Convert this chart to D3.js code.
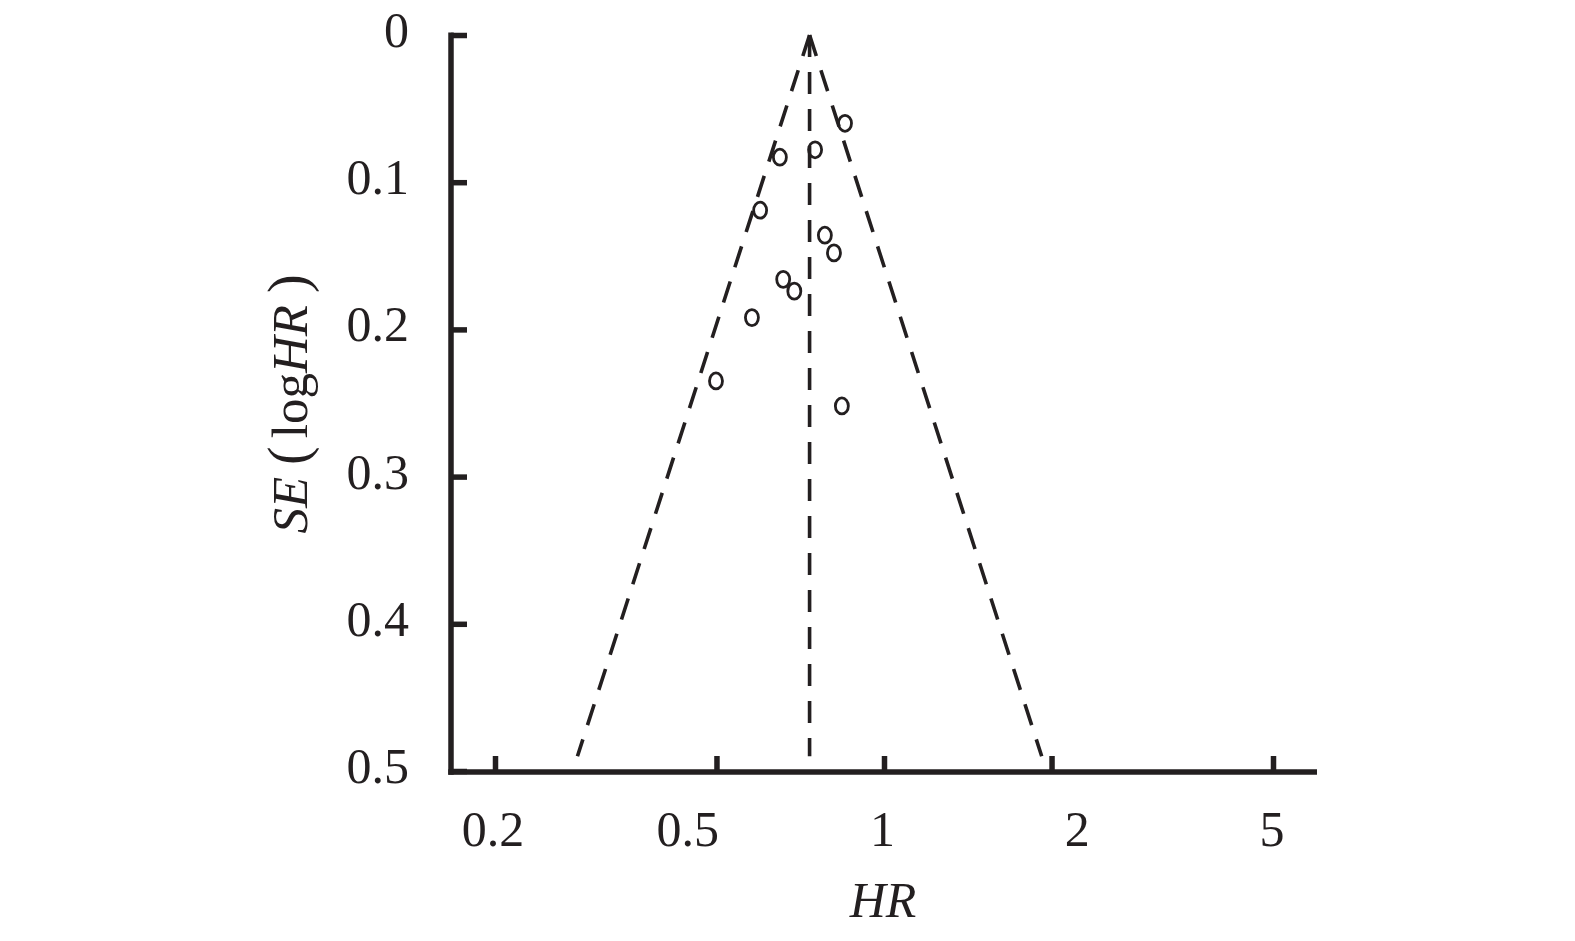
<!DOCTYPE html>
<html><head><meta charset="utf-8">
<script src="https://cdn.jsdelivr.net/npm/d3@7"></script>
<style>body{margin:0;background:#fff}svg{display:block}</style>
</head><body><svg id="c" width="1575" height="941"></svg>
<script>
// ---- data ----
const hrTicks = [0.2, 0.5, 1, 2, 5];
const hrTickLabels = ["0.2", "0.5", "1", "2", "5"];
const seTicks = [0, 0.1, 0.2, 0.3, 0.4, 0.5];
const seTickLabels = ["0", "0.1", "0.2", "0.3", "0.4", "0.5"];
const studyHR = [0.851, 0.752, 0.650, 0.599, 0.783, 0.813, 0.659, 0.690, 0.579, 0.499, 0.840];
const studySE = [0.060, 0.078, 0.083, 0.119, 0.136, 0.148, 0.166, 0.174, 0.192, 0.235, 0.252];
const pooledHR = 0.735;
const funnelSEMax = 0.49;
const zCrit = 1.96;

// ---- layout ----
const ink = "#231f20";
const font = "'Liberation Serif','Times New Roman',serif";
const svg = d3.select("#c");

const x = d3.scaleLog().domain([0.2, 5]).range([495, 1273]);
const y = d3.scaleLinear().domain([0, 0.5]).range([35, 771]);
const xLab = d3.scalePoint().domain(hrTickLabels).range([493, 1272]);

const axisX0 = 451, axisY0 = 772;

// dashed funnel
const dash = "22,15";
const g = svg.append("g").attr("fill", "none").attr("stroke", ink)
  .attr("stroke-width", 3.6).attr("stroke-dasharray", dash);
const funnelL = [[pooledHR, 0], [pooledHR * Math.exp(-zCrit * funnelSEMax), funnelSEMax]];
const funnelR = [[pooledHR, 0], [pooledHR * Math.exp(zCrit * funnelSEMax), funnelSEMax]];
const center = [[pooledHR, 0], [pooledHR, funnelSEMax]];
const line = d3.line().x(d => x(d[0])).y(d => y(d[1]));
[funnelL, center, funnelR].forEach(p => g.append("path").attr("d", line(p)));

// study points
svg.append("g").selectAll("ellipse").data(studyHR.map((h, i) => [h, studySE[i]]))
  .join("ellipse")
  .attr("cx", d => x(d[0])).attr("cy", d => y(d[1]))
  .attr("rx", 6.5).attr("ry", 8)
  .attr("fill", "none").attr("stroke", ink).attr("stroke-width", 2.8);

// axes
const yAx = svg.append("g").attr("transform", `translate(${axisX0},0)`)
  .call(d3.axisRight(y).tickValues(seTicks).tickSize(16).tickFormat(""));
yAx.select(".domain").remove();
yAx.selectAll("line").attr("stroke", ink).attr("stroke-width", 5.5);

const xAx = svg.append("g").attr("transform", `translate(0,${axisY0})`)
  .call(d3.axisTop(x).tickValues(hrTicks).tickSize(16).tickFormat(""));
xAx.select(".domain").remove();
xAx.selectAll("line").attr("stroke", ink).attr("stroke-width", 5.5);

svg.append("line").attr("x1", axisX0).attr("x2", axisX0).attr("y1", 32.5).attr("y2", axisY0 + 2.75)
  .attr("stroke", ink).attr("stroke-width", 5.5);
svg.append("line").attr("x1", axisX0 - 2.75).attr("x2", 1317).attr("y1", axisY0).attr("y2", axisY0)
  .attr("stroke", ink).attr("stroke-width", 5.5);

// tick labels
svg.append("g").selectAll("text").data(seTicks).join("text")
  .attr("x", 409).attr("y", d => y(d) + 12)
  .attr("text-anchor", "end").attr("font-family", font).attr("font-size", 50).attr("fill", ink)
  .text((d, i) => seTickLabels[i]);

svg.append("g").selectAll("text").data(hrTickLabels).join("text")
  .attr("x", d => xLab(d)).attr("y", 846)
  .attr("text-anchor", "middle").attr("font-family", font).attr("font-size", 50).attr("fill", ink)
  .text(d => d);

// axis titles
svg.append("text").attr("x", 883).attr("y", 917).attr("text-anchor", "middle")
  .attr("font-family", font).attr("font-size", 50).attr("font-style", "italic").attr("fill", ink)
  .text("HR");

const yt = svg.append("text").attr("transform", "translate(307,404) rotate(-90)")
  .attr("text-anchor", "middle").attr("font-family", font).attr("font-size", 51).attr("fill", ink);
yt.append("tspan").attr("font-style", "italic").text("SE");
yt.append("tspan").attr("dx", 12).attr("font-size", 56).text("(");
yt.append("tspan").attr("dx", 8).text("log");
yt.append("tspan").attr("font-style", "italic").text("HR");
yt.append("tspan").attr("dx", 12).attr("font-size", 56).text(")");
</script>
</body></html>
